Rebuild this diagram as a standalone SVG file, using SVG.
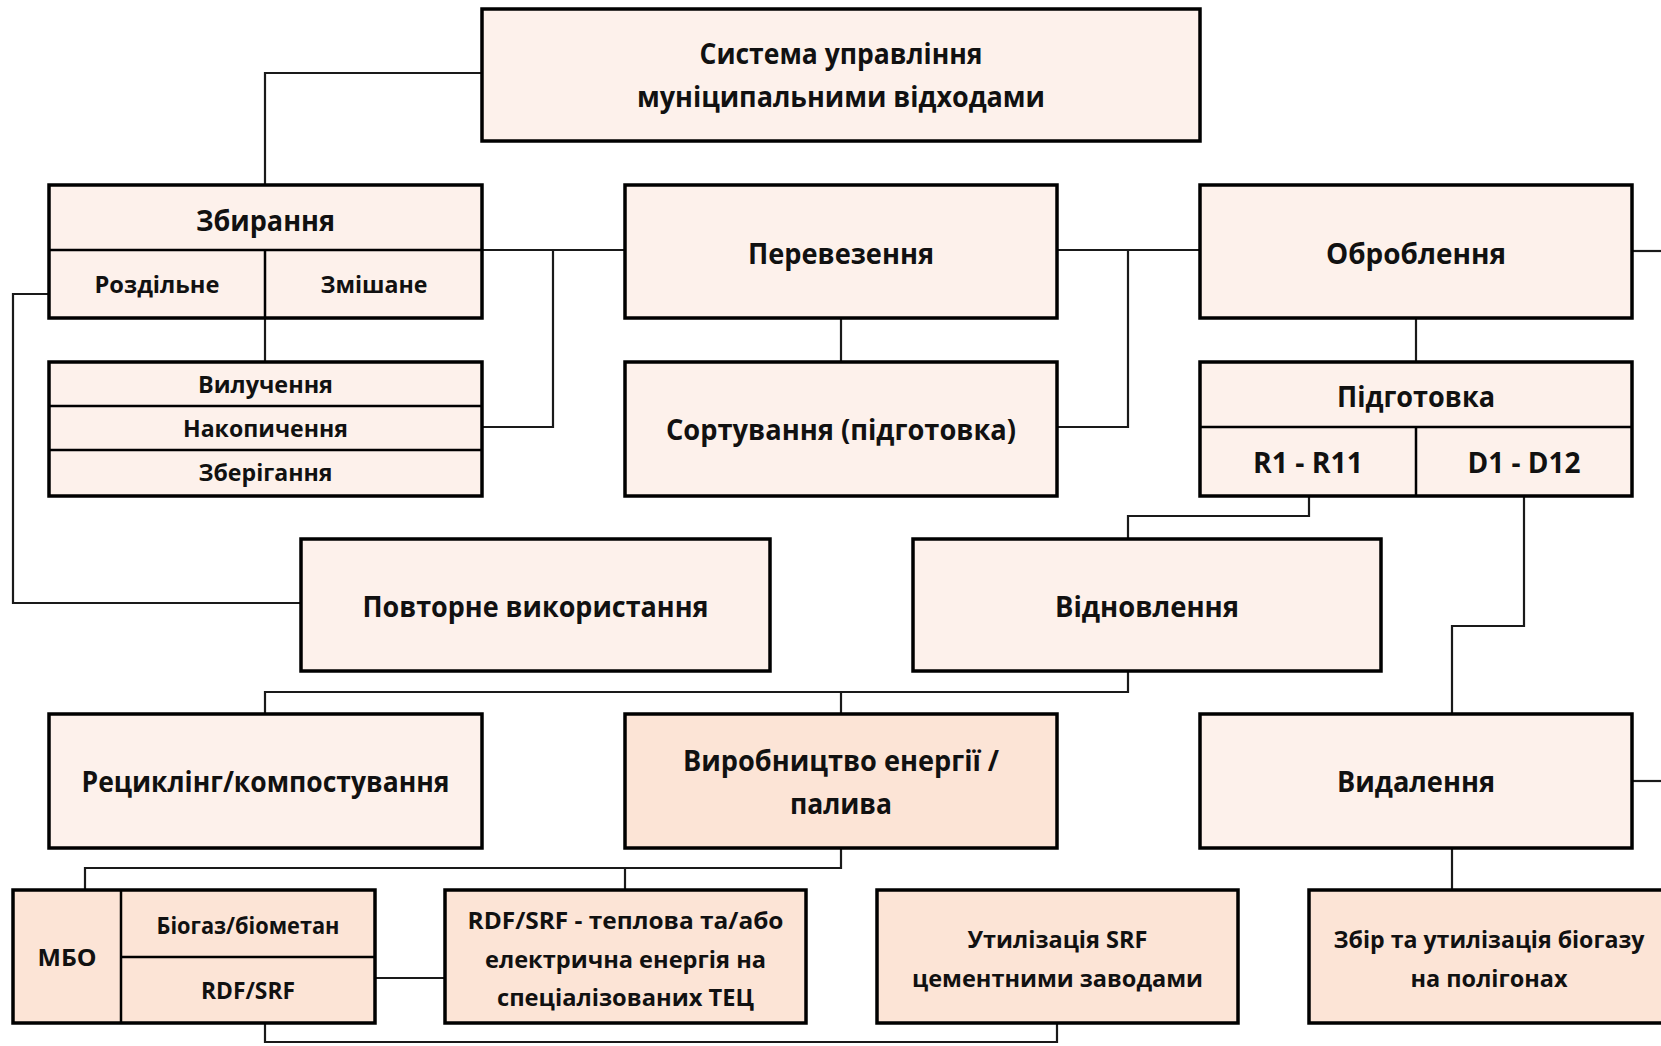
<svg xmlns="http://www.w3.org/2000/svg" width="1661" height="1046" viewBox="0 0 1661 1046">
<style>
.box{stroke:#000;stroke-width:3.5}
.lt{fill:#FDF1EB}
.dk{fill:#FCE4D6}
.div{stroke:#000;stroke-width:2.5;fill:none}
.con{stroke:#1a1a1a;stroke-width:2.2;fill:none}
text{font-family:"Open Sans","Noto Sans","DejaVu Sans",sans-serif;font-weight:700;fill:#111;text-anchor:middle}
.L{font-size:28px}
.S{font-size:23.5px}
</style>
<rect width="1661" height="1046" fill="#fff"/>
<g id="connectors">
<path class="con" d="M482,73 H265 V185"/>
<path class="con" d="M265,318 V362"/>
<path class="con" d="M482,250 H625"/>
<path class="con" d="M553,250 V427 H482"/>
<path class="con" d="M49,294 H13 V603 H301"/>
<path class="con" d="M841,318 V362"/>
<path class="con" d="M1057,250 H1200"/>
<path class="con" d="M1128,250 V427 H1057"/>
<path class="con" d="M1416,318 V362"/>
<path class="con" d="M1632,251 H1661"/>
<path class="con" d="M1309,496 V516 H1128 V539"/>
<path class="con" d="M1524,496 V626 H1452 V714"/>
<path class="con" d="M1128,671 V692 H265 V714"/>
<path class="con" d="M841,692 V714"/>
<path class="con" d="M1632,781 H1661"/>
<path class="con" d="M1452,848 V890"/>
<path class="con" d="M841,848 V868 H85 V890"/>
<path class="con" d="M625,868 V890"/>
<path class="con" d="M375,978 H445"/>
<path class="con" d="M265,1023 V1042 H1057 V1023"/>
</g>
<g id="n-system">
<rect class="box lt" x="482" y="9" width="718" height="132"/>
<text class="L" x="841" y="63.5" textLength="283" lengthAdjust="spacingAndGlyphs">Система управління</text>
<text class="L" x="841" y="107" textLength="408" lengthAdjust="spacingAndGlyphs">муніципальними відходами</text>
</g>
<g id="n-zbyrannia">
<rect class="box lt" x="49" y="185" width="433" height="133"/>
<path class="div" d="M49,250 H482 M265,250 V318"/>
<text class="L" x="265.5" y="230.5" textLength="139" lengthAdjust="spacingAndGlyphs">Збирання</text>
<text class="S" x="157" y="293" textLength="125" lengthAdjust="spacingAndGlyphs">Роздільне</text>
<text class="S" x="374" y="293" textLength="107" lengthAdjust="spacingAndGlyphs">Змішане</text>
</g>
<g id="n-vyluchennia">
<rect class="box lt" x="49" y="362" width="433" height="134"/>
<path class="div" d="M49,406 H482 M49,450 H482"/>
<text class="S" x="265.5" y="393" textLength="135" lengthAdjust="spacingAndGlyphs">Вилучення</text>
<text class="S" x="265.5" y="437" textLength="165" lengthAdjust="spacingAndGlyphs">Накопичення</text>
<text class="S" x="265.5" y="481" textLength="134" lengthAdjust="spacingAndGlyphs">Зберігання</text>
</g>
<g id="n-perevezennia">
<rect class="box lt" x="625" y="185" width="432" height="133"/>
<text class="L" x="841" y="264" textLength="186" lengthAdjust="spacingAndGlyphs">Перевезення</text>
</g>
<g id="n-sortuvannia">
<rect class="box lt" x="625" y="362" width="432" height="134"/>
<text class="L" x="841" y="440" textLength="350" lengthAdjust="spacingAndGlyphs">Сортування (підготовка)</text>
</g>
<g id="n-obroblennia">
<rect class="box lt" x="1200" y="185" width="432" height="133"/>
<text class="L" x="1416" y="264" textLength="180" lengthAdjust="spacingAndGlyphs">Оброблення</text>
</g>
<g id="n-pidhotovka">
<rect class="box lt" x="1200" y="362" width="432" height="134"/>
<path class="div" d="M1200,427 H1632 M1416,427 V496"/>
<text class="L" x="1416" y="407" textLength="158" lengthAdjust="spacingAndGlyphs">Підготовка</text>
<text class="L" x="1308" y="473" textLength="110" lengthAdjust="spacingAndGlyphs">R1 - R11</text>
<text class="L" x="1524" y="473" textLength="113" lengthAdjust="spacingAndGlyphs">D1 - D12</text>
</g>
<g id="n-povtorne">
<rect class="box lt" x="301" y="539" width="469" height="132"/>
<text class="L" x="535.5" y="617" textLength="346" lengthAdjust="spacingAndGlyphs">Повторне використання</text>
</g>
<g id="n-vidnovlennia">
<rect class="box lt" x="913" y="539" width="468" height="132"/>
<text class="L" x="1147" y="617" textLength="184" lengthAdjust="spacingAndGlyphs">Відновлення</text>
</g>
<g id="n-recycling">
<rect class="box lt" x="49" y="714" width="433" height="134"/>
<text class="L" x="265.5" y="792" textLength="368" lengthAdjust="spacingAndGlyphs">Рециклінг/компостування</text>
</g>
<g id="n-vyrobnytstvo">
<rect class="box dk" x="625" y="714" width="432" height="134"/>
<text class="L" x="841" y="771" textLength="316" lengthAdjust="spacingAndGlyphs">Виробництво енергії /</text>
<text class="L" x="841" y="814" textLength="102" lengthAdjust="spacingAndGlyphs">палива</text>
</g>
<g id="n-vydalennia">
<rect class="box lt" x="1200" y="714" width="432" height="134"/>
<text class="L" x="1416" y="792" textLength="158" lengthAdjust="spacingAndGlyphs">Видалення</text>
</g>
<g id="n-mbo">
<rect class="box dk" x="13" y="890" width="362" height="133"/>
<path class="div" d="M121,890 V1023 M121,957 H375"/>
<text class="S" x="67" y="966" textLength="59" lengthAdjust="spacingAndGlyphs">МБО</text>
<text class="S" x="248" y="934" textLength="183" lengthAdjust="spacingAndGlyphs">Біогаз/біометан</text>
<text class="S" x="248" y="999" textLength="94" lengthAdjust="spacingAndGlyphs">RDF/SRF</text>
</g>
<g id="n-rdf-tec">
<rect class="box dk" x="445" y="890" width="361" height="133"/>
<text class="S" x="625.5" y="929" textLength="316" lengthAdjust="spacingAndGlyphs">RDF/SRF - теплова та/або</text>
<text class="S" x="625.5" y="967.5" textLength="281" lengthAdjust="spacingAndGlyphs">електрична енергія на</text>
<text class="S" x="625.5" y="1006" textLength="257" lengthAdjust="spacingAndGlyphs">спеціалізованих ТЕЦ</text>
</g>
<g id="n-cement">
<rect class="box dk" x="877" y="890" width="361" height="133"/>
<text class="S" x="1057.5" y="948" textLength="180" lengthAdjust="spacingAndGlyphs">Утилізація SRF</text>
<text class="S" x="1057.5" y="986.5" textLength="291" lengthAdjust="spacingAndGlyphs">цементними заводами</text>
</g>
<g id="n-biogas">
<rect class="box dk" x="1309" y="890" width="360" height="133"/>
<text class="S" x="1489" y="948" textLength="311" lengthAdjust="spacingAndGlyphs">Збір та утилізація біогазу</text>
<text class="S" x="1489" y="986.5" textLength="157" lengthAdjust="spacingAndGlyphs">на полігонах</text>
</g>
</svg>
